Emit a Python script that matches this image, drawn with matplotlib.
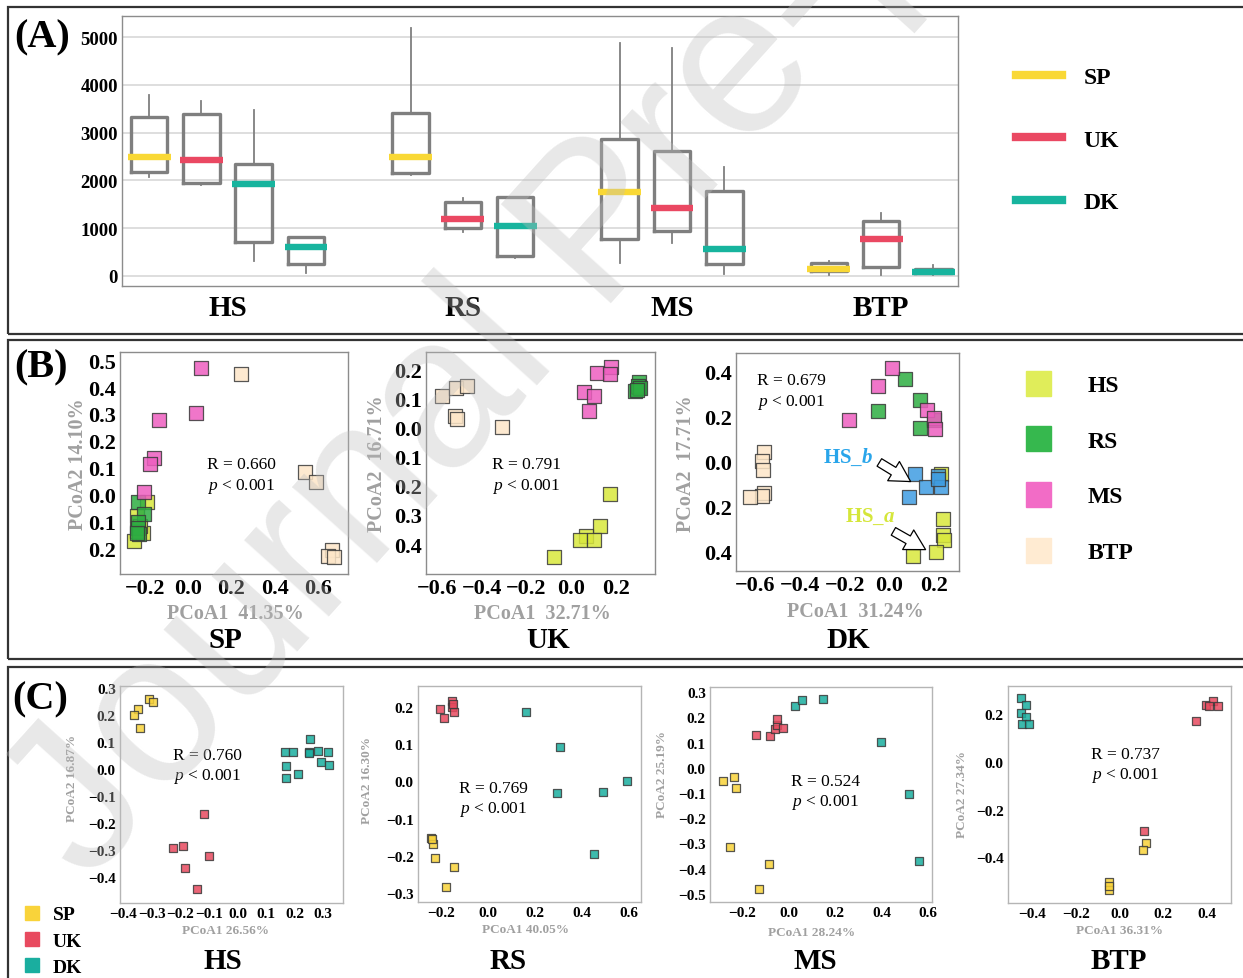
import numpy as np
import matplotlib
matplotlib.use('Agg')
import matplotlib.pyplot as plt
from matplotlib.lines import Line2D
from matplotlib.patches import Rectangle, FancyArrowPatch
from matplotlib.ticker import FuncFormatter

plt.rcParams['font.family'] = ['Liberation Serif', 'DejaVu Serif']
plt.rcParams['mathtext.fontset'] = 'custom'
plt.rcParams['mathtext.rm'] = 'Liberation Serif'
plt.rcParams['mathtext.it'] = 'Liberation Serif:italic'
plt.rcParams['mathtext.bfit'] = 'Liberation Serif:italic:bold'

# ---------------- data ----------------
# (A) box statistics, one entry per box
groups = ['HS', 'RS', 'MS', 'BTP']
box_group = ['HS', 'HS', 'HS', 'HS', 'RS', 'RS', 'RS', 'MS', 'MS', 'MS', 'BTP', 'BTP', 'BTP']
box_site = ['SP', 'UK', 'DK', 'DK', 'SP', 'UK', 'DK', 'SP', 'UK', 'DK', 'SP', 'UK', 'DK']
box_whislo = [2078, 1897, 307, 56, 2106, 927, 377, 265, 697, 35, 28, 28, 28]
box_q1 = [2176, 1939, 718, 258, 2155, 1011, 425, 767, 941, 244, 105, 195, 56]
box_med = [2490, 2434, 1932, 607, 2483, 1199, 1039, 1757, 1416, 565, 139, 774, 91]
box_q3 = [3333, 3382, 2350, 823, 3410, 1541, 1660, 2859, 2608, 1785, 279, 1158, 153]
box_whishi = [3780, 3661, 3473, 823, 5195, 1625, 1660, 4868, 4777, 2280, 314, 1318, 237]

site_colors = {'SP': '#f9d835', 'UK': '#ea4862', 'DK': '#17b49e'}
c_colors = {'SP': '#f9d33a', 'UK': '#e84a5f', 'DK': '#1aae9f'}
hab_colors = {'HS': '#d9e83c', 'RS': '#2eae42', 'MS': '#ee5ec0', 'BTP': '#fde6c8',
              'HS_b': '#3f9de2'}
hab_legend = {'HS': '#e0ed5a', 'RS': '#36b84e', 'MS': '#f26cc6', 'BTP': '#ffebd2'}

# (B) PCoA per country, points per habitat
b_titles = ['SP', 'UK', 'DK']
b_xlab = ['PCoA1  41.35%', 'PCoA1  32.71%', 'PCoA1  31.24%']
b_ylab = ['PCoA2 14.10%', 'PCoA2  16.71%', 'PCoA2  17.71%']
b_R = ['0.660', '0.791', '0.679']
b_sp = {
    'HS': ([-0.191, -0.238, -0.249, -0.208, -0.223, -0.235],
           [-0.025, -0.078, -0.170, -0.142, -0.115, -0.133]),
    'RS': ([-0.231, -0.202, -0.234, -0.231, -0.226, -0.238],
           [-0.028, -0.072, -0.100, -0.125, -0.146, -0.140]),
    'MS': ([0.058, 0.035, -0.137, -0.158, -0.177, -0.205],
           [0.472, 0.302, 0.278, 0.137, 0.116, 0.009]),
    'BTP': ([0.245, 0.538, 0.592, 0.665, 0.646, 0.672],
            [0.447, 0.083, 0.048, -0.204, -0.226, -0.232]),
}
b_uk = {
    'HS': ([0.177, 0.130, 0.066, 0.040, 0.103, -0.078],
           [-0.228, -0.337, -0.371, -0.387, -0.387, -0.446]),
    'RS': ([0.306, 0.288, 0.306, 0.300, 0.309, 0.294],
           [0.158, 0.127, 0.139, 0.144, 0.135, 0.131]),
    'MS': ([0.180, 0.115, 0.175, 0.058, 0.103, 0.079],
           [0.207, 0.188, 0.184, 0.121, 0.108, 0.056]),
    'BTP': ([-0.581, -0.517, -0.469, -0.520, -0.511, -0.309],
            [0.110, 0.135, 0.144, 0.041, 0.030, 0.003]),
}
b_dk = {
    'HS': ([0.232, 0.242, 0.244, 0.247, 0.212, 0.109],
           [-0.055, -0.255, -0.327, -0.349, -0.401, -0.420]),
    'HS_b': ([0.117, 0.166, 0.090, 0.221, 0.233, 0.218],
             [-0.053, -0.112, -0.159, -0.066, -0.112, -0.077]),
    'RS': ([0.070, -0.048, 0.138, 0.138, 0.203],
           [0.366, 0.225, 0.274, 0.147, 0.186]),
    'MS': ([0.012, -0.048, -0.179, 0.170, 0.203, 0.206],
           [0.414, 0.336, 0.183, 0.230, 0.192, 0.144]),
    'BTP': ([-0.561, -0.571, -0.565, -0.564, -0.570, -0.624],
            [0.044, 0.001, -0.037, -0.139, -0.153, -0.158]),
}

# (C) PCoA per habitat, points per country
c_titles = ['HS', 'RS', 'MS', 'BTP']
c_xlab = ['PCoA1 26.56%', 'PCoA1 40.05%', 'PCoA1 28.24%', 'PCoA1 36.31%']
c_ylab = ['PCoA2 16.87%', 'PCoA2 16.30%', 'PCoA2 25.19%', 'PCoA2 27.34%']
c_R = ['0.760', '0.769', '0.524', '0.737']
c_hs = {
    'SP': ([-0.310, -0.295, -0.350, -0.362, -0.341],
           [0.259, 0.249, 0.225, 0.203, 0.153]),
    'UK': ([-0.118, -0.225, -0.190, -0.100, -0.184, -0.141],
           [-0.166, -0.292, -0.283, -0.323, -0.367, -0.443]),
    'DK': ([0.168, 0.193, 0.256, 0.250, 0.282, 0.319, 0.294, 0.320, 0.171, 0.212, 0.169, 0.250],
           [0.064, 0.066, 0.113, 0.064, 0.069, 0.064, 0.026, 0.016, 0.011, -0.017, -0.032, 0.060]),
}
c_rs = {
    'SP': ([-0.245, -0.234, -0.228, -0.146, -0.181, -0.240],
           [-0.153, -0.167, -0.207, -0.229, -0.285, -0.156]),
    'UK': ([-0.153, -0.205, -0.187, -0.153, -0.147, -0.150],
           [0.217, 0.195, 0.171, 0.200, 0.186, 0.208]),
    'DK': ([0.161, 0.305, 0.294, 0.491, 0.595, 0.452],
           [0.187, 0.092, -0.030, -0.029, 0.001, -0.196]),
}
c_ms = {
    'SP': ([-0.281, -0.234, -0.226, -0.251, -0.084, -0.129],
           [-0.051, -0.036, -0.082, -0.314, -0.383, -0.483]),
    'UK': ([-0.143, -0.083, -0.061, -0.051, -0.049, -0.024],
           [0.129, 0.125, 0.153, 0.169, 0.193, 0.158]),
    'DK': ([0.026, 0.056, 0.147, 0.397, 0.516, 0.559],
           [0.245, 0.269, 0.272, 0.103, -0.104, -0.372]),
}
c_btp = {
    'SP': ([0.123, 0.107, -0.047, -0.047, -0.047],
           [-0.338, -0.368, -0.504, -0.536, -0.520]),
    'UK': ([0.396, 0.430, 0.412, 0.450, 0.351, 0.111],
           [0.236, 0.253, 0.232, 0.232, 0.170, -0.290]),
    'DK': ([-0.451, -0.427, -0.451, -0.427, -0.447, -0.416],
           [0.264, 0.236, 0.205, 0.187, 0.156, 0.156]),
}

# ---------------- figure ----------------
W, H = 1243, 979
fig = plt.figure(figsize=(W / 100, H / 100), dpi=100)


def add_ax(l, t, r, b):
    return fig.add_axes([l / W, 1 - b / H, (r - l) / W, (b - t) / H])


def ftext(x, y, s, **kw):
    return fig.text(x / W, 1 - y / H, s, **kw)


def frame(t, b):
    fig.add_artist(Rectangle((8 / W, 1 - b / H), 1.2, (b - t) / H, transform=fig.transFigure,
                             fill=False, ec='#333333', lw=1.6, clip_on=False))


def style_ax(ax, size):
    for s in ax.spines.values():
        s.set_color('#8c8c8c')
        s.set_linewidth(1.0)
    ax.tick_params(length=0, labelsize=size, pad=3)
    for lab in ax.get_xticklabels() + ax.get_yticklabels():
        lab.set_fontweight('bold')


frame(8, 335)
frame(341, 660)
frame(668, 1000)

# ---- (A) boxplots ----
axA = add_ax(122, 17, 958, 287)
pos, p, prev = [], 0, None
for g in box_group:
    if prev is not None:
        p += 1 if g == prev else 2
    pos.append(p)
    prev = g
pos = np.array(pos, dtype=float)
stats = [dict(whislo=box_whislo[i], q1=box_q1[i], med=box_med[i], q3=box_q3[i],
              whishi=box_whishi[i]) for i in range(len(box_med))]
axA.bxp(stats, positions=pos, widths=0.7, showfliers=False, showcaps=False,
        boxprops=dict(color='#7f7f7f', lw=2.4),
        whiskerprops=dict(color='#7f7f7f', lw=1.3),
        medianprops=dict(visible=False))
for i in range(len(box_med)):
    axA.hlines(box_med[i], pos[i] - 0.41, pos[i] + 0.41,
               color=site_colors[box_site[i]], lw=4.6, zorder=3)
axA.set_xlim(-0.52, 15.47)
axA.set_ylim(-210, 5440)
axA.set_yticks(np.arange(0, 5001, 1000))
axA.yaxis.grid(True, color='#d4d4d4', lw=1.1)
axA.set_axisbelow(True)
centers = [pos[[j for j, g in enumerate(box_group) if g == grp]].mean() for grp in groups]
axA.set_xticks(centers)
axA.set_xticklabels(groups)
style_ax(axA, 13.5)
for lab in axA.get_xticklabels():
    lab.set_fontsize(21)
axA.tick_params(axis='x', pad=6)
ftext(14, 38, '(A)', fontsize=29, fontweight='bold', va='center')

handles = [Line2D([], [], color=site_colors[s], lw=6) for s in ['SP', 'UK', 'DK']]
fig.legend(handles, ['SP', 'UK', 'DK'], loc='upper left',
           bbox_to_anchor=(995 / W, 1 - 46 / H), frameon=False,
           prop=dict(size=17, weight='bold'), handlelength=1.95, handletextpad=0.9,
           labelspacing=1.75)


# ---- (B) PCoA per country ----
def scatter_groups(ax, data, colors, size, order):
    for k in order:
        if k in data:
            x, y = data[k]
            ax.scatter(x, y, s=size, marker='s', c=colors[k], edgecolors='#3a3a3a',
                       linewidths=0.9, alpha=0.85, zorder=3)


b_data = [b_sp, b_uk, b_dk]
b_boxes = [(120, 353, 348, 575), (426, 353, 655, 575), (736, 354, 959, 572)]
b_xlim = [(-0.315, 0.738), (-0.652, 0.377), (-0.688, 0.314)]
b_ylim = [(-0.294, 0.53), (-0.503, 0.26), (-0.485, 0.481)]
b_xt = [np.arange(-0.2, 0.61, 0.2), np.arange(-0.6, 0.21, 0.2), np.arange(-0.6, 0.21, 0.2)]
b_yt = [np.arange(-0.2, 0.51, 0.1), np.arange(-0.4, 0.21, 0.1), np.arange(-0.4, 0.41, 0.2)]
b_Rpos = [(207, 465), (492, 465), (757, 381)]
b_xlpos = [(235, 614), (542, 614), (855, 612)]
b_ylpos = [(78, 464), (377, 464), (686, 464)]
b_tpos = [(225, 641), (548, 641), (848, 641)]
for i in range(3):
    ax = add_ax(*b_boxes[i])
    scatter_groups(ax, b_data[i], hab_colors, 95, ['HS', 'HS_b', 'RS', 'MS', 'BTP'])
    ax.set_xlim(*b_xlim[i])
    ax.set_ylim(*b_ylim[i])
    ax.set_xticks(b_xt[i])
    ax.set_yticks(b_yt[i])
    ax.yaxis.set_major_formatter(FuncFormatter(lambda v, _: f'{abs(v):.1f}'))
    style_ax(ax, 16)
    ftext(*b_xlpos[i], b_xlab[i], fontsize=14.5, fontweight='bold', color='#a0a0a0',
          ha='center', va='center')
    ftext(*b_ylpos[i], b_ylab[i], fontsize=14.5, fontweight='bold', color='#a0a0a0',
          ha='center', va='center', rotation=90)
    ftext(*b_tpos[i], b_titles[i], fontsize=21, fontweight='bold', ha='center', va='center')
    rx, ry = b_Rpos[i]
    ftext(rx, ry, f'R = {b_R[i]}', fontsize=12.5, va='center')
    ftext(rx, ry + 22, r'$\mathit{p}$ < 0.001', fontsize=12.5, va='center')

ftext(14, 368, '(B)', fontsize=29, fontweight='bold', va='center')
ftext(848, 457, r'HS_$\mathbfit{b}$', fontsize=15, fontweight='bold', color='#29a5ea',
      ha='center', va='center')
ftext(870, 517, r'HS_$\mathbfit{a}$', fontsize=15, fontweight='bold', color='#d5e63a',
      ha='center', va='center')
for (x0, y0, x1, y1) in [(877, 462, 913, 484), (891, 531, 928, 552)]:
    fig.add_artist(FancyArrowPatch(
        (x0 / W, 1 - y0 / H), (x1 / W, 1 - y1 / H), transform=fig.transFigure,
        arrowstyle='simple,head_width=0.9,head_length=0.8,tail_width=0.35',
        mutation_scale=18, fc='white', ec='black', lw=0.9))

hab_names = ['HS', 'RS', 'MS', 'BTP']
hb = [Line2D([], [], ls='', marker='s', markersize=18, color=hab_legend[k]) for k in hab_names]
fig.legend(hb, hab_names, loc='upper left',
           bbox_to_anchor=(998 / W, 1 - 354 / H), frameon=False,
           prop=dict(size=17, weight='bold'), handlelength=1.6, handletextpad=1.3,
           labelspacing=1.45)

# ---- (C) PCoA per habitat ----
c_data = [c_hs, c_rs, c_ms, c_btp]
c_boxes = [(120, 687, 343, 904), (418, 687, 641, 903), (710, 688, 932, 903), (1008, 687, 1231, 904)]
c_xlim = [(-0.412, 0.370), (-0.30, 0.653), (-0.339, 0.616), (-0.51, 0.511)]
c_ylim = [(-0.496, 0.309), (-0.324, 0.256), (-0.533, 0.321), (-0.590, 0.316)]
c_xt = [np.arange(-0.4, 0.31, 0.1), np.arange(-0.2, 0.61, 0.2), np.arange(-0.2, 0.61, 0.2),
        np.arange(-0.4, 0.41, 0.2)]
c_yt = [np.arange(-0.4, 0.31, 0.1), np.arange(-0.3, 0.21, 0.1), np.arange(-0.5, 0.31, 0.1),
        np.arange(-0.4, 0.21, 0.2)]
c_Rpos = [(173, 756), (459, 789), (791, 782), (1091, 755)]
c_xlpos = [(225, 931), (525, 930), (812, 933), (1119, 931)]
c_ylpos = [(72, 778), (367, 780), (662, 775), (962, 795)]
c_tpos = [(223, 962), (508, 962), (815, 962), (1119, 962)]
for i in range(4):
    ax = add_ax(*c_boxes[i])
    scatter_groups(ax, c_data[i], c_colors, 40, ['SP', 'UK', 'DK'])
    ax.set_xlim(*c_xlim[i])
    ax.set_ylim(*c_ylim[i])
    ax.set_xticks(np.round(c_xt[i], 1))
    ax.set_yticks(np.round(c_yt[i], 1))
    style_ax(ax, 11)
    for s in ax.spines.values():
        s.set_color('#b5b5b5')
    ftext(*c_xlpos[i], c_xlab[i], fontsize=9.5, fontweight='bold', color='#a0a0a0',
          ha='center', va='center')
    ftext(*c_ylpos[i], c_ylab[i], fontsize=9.5, fontweight='bold', color='#a0a0a0',
          ha='center', va='center', rotation=90)
    ftext(*c_tpos[i], c_titles[i], fontsize=21, fontweight='bold', ha='center', va='center')
    rx, ry = c_Rpos[i]
    ftext(rx, ry, f'R = {c_R[i]}', fontsize=12.5, va='center')
    ftext(rx, ry + 21, r'$\mathit{p}$ < 0.001', fontsize=12.5, va='center')

ftext(12, 700, '(C)', fontsize=29, fontweight='bold', va='center')
hc = [Line2D([], [], ls='', marker='s', markersize=10, color=c_colors[k]) for k in ['SP', 'UK', 'DK']]
fig.legend(hc, ['SP', 'UK', 'DK'], loc='upper left',
           bbox_to_anchor=(14 / W, 1 - 897 / H), frameon=False,
           prop=dict(size=14, weight='bold'), handlelength=0.9, handletextpad=0.6,
           labelspacing=0.45, borderpad=0)

# watermark
ftext(88, 885, 'Journal Pre-proof', rotation=48, rotation_mode='anchor', ha='left',
      va='baseline', fontsize=155, family='Liberation Sans', color='#bdbdbd', alpha=0.35,
      zorder=100)

fig.savefig('out.png', dpi=100)
